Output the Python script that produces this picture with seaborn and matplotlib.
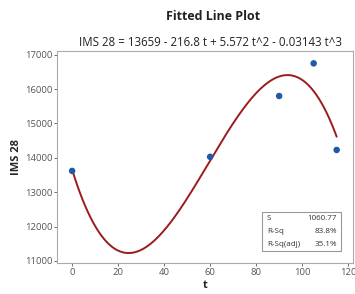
import numpy as np
import pandas as pd
import matplotlib.pyplot as plt
import seaborn as sns
from matplotlib.patches import Rectangle

# observed points
t_obs = [0, 60, 90, 105, 115]
ims_obs = [13620, 14030, 15800, 16750, 14230]

# fitted cubic from the title: b0 + b1 t + b2 t^2 + b3 t^3
coefs = [13659, -216.8, 5.572, -0.03143]

stat_names = ["S", "R-Sq", "R-Sq(adj)"]
stat_vals = ["1060.77", "83.8%", "35.1%"]

x_ticks = [0, 20, 40, 60, 80, 100, 120]
y_ticks = [11000, 12000, 13000, 14000, 15000, 16000, 17000]

sns.set_style("white")
plt.rcParams["font.family"] = ["Open Sans", "DejaVu Sans"]

grid = np.linspace(min(t_obs), max(t_obs), 200)
fit = pd.DataFrame({"t": grid, "IMS 28": np.polyval(coefs[::-1], grid)})
obs = pd.DataFrame({"t": t_obs, "IMS 28": ims_obs})

fig = plt.figure(figsize=(3.55, 2.94), dpi=100)
ax = fig.add_axes([0.161, 0.1054, 0.834, 0.72])

sns.lineplot(data=fit, x="t", y="IMS 28", ax=ax, color="#9b1c1c", lw=1.4)
sns.scatterplot(data=obs, x="t", y="IMS 28", ax=ax, color="#1f5aa6",
                s=22, edgecolor="none", zorder=3)

ax.set_xlim(-6.5, 122.2)
ax.set_ylim(10940, 17100)
ax.set_xticks(x_ticks)
ax.set_yticks(y_ticks)
ax.tick_params(labelsize=6.8, colors="#555555", length=2, width=0.6,
               direction="out", left=True, bottom=True, pad=1.5)
for s in ax.spines.values():
    s.set_color("#aaaaaa")
    s.set_linewidth(0.8)

ax.set_xlabel("t", fontsize=8, fontweight="bold", labelpad=2)
ax.set_ylabel("IMS 28", fontsize=8, fontweight="bold", labelpad=2)

fig.text(0.6, 0.943, "Fitted Line Plot", ha="center", va="center",
         fontsize=9, fontweight="bold", color="#222222")
fig.text(0.593, 0.857, "IMS 28 = 13659 - 216.8 t + 5.572 t^2 - 0.03143 t^3",
         ha="center", va="center", fontsize=8.3, color="#222222")

# stats box
bx0, bx1, by0, by1 = 0.693, 0.959, 0.057, 0.241
ax.add_patch(Rectangle((bx0, by0), bx1 - bx0, by1 - by0, transform=ax.transAxes,
                       facecolor="white", edgecolor="#999999", lw=0.8, zorder=4))
row_h = (by1 - by0) / 3
for i, (n, v) in enumerate(zip(stat_names, stat_vals)):
    yy = by1 - row_h * (i + 0.5)
    ax.text(bx0 + 0.015, yy, n, transform=ax.transAxes, fontsize=5.8,
            va="center", ha="left", zorder=5, color="#333333")
    ax.text(bx1 - 0.015, yy, v, transform=ax.transAxes, fontsize=5.8,
            va="center", ha="right", zorder=5, color="#333333")

fig.savefig("out.png", dpi=100)
